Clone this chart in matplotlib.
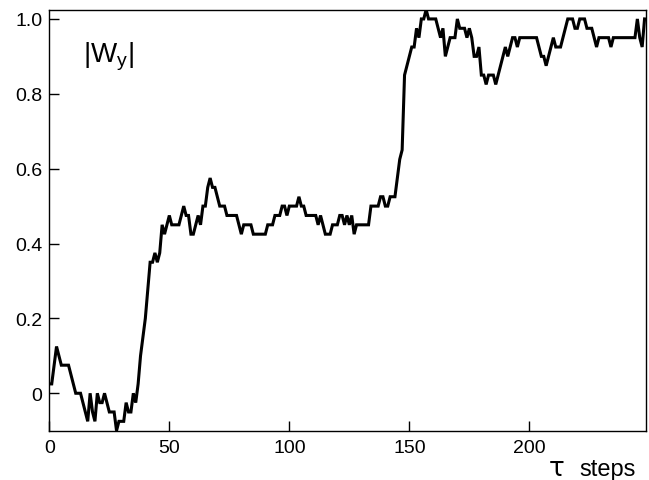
#!/usr/bin/env python3
import matplotlib
matplotlib.use("Agg")
import matplotlib.pyplot as plt
import numpy as np

plt.rcParams.update({
    "font.family": ["Liberation Sans", "DejaVu Sans"],
    "mathtext.fontset": "custom",
    "mathtext.rm": "Liberation Sans",
    "mathtext.it": "Liberation Sans:italic",
})

# |W_y| per tau step (steps of 0.025)
w_y = [
    0.025, 0.025, 0.075, 0.125, 0.1, 0.075, 0.075, 0.075, 0.075, 0.05,
    0.025, 0.0, 0.0, 0.0, -0.025, -0.05, -0.075, 0.0, -0.05, -0.075,
    0.0, -0.025, -0.025, 0.0, -0.025, -0.05, -0.05, -0.05, -0.1, -0.075,
    -0.075, -0.075, -0.025, -0.05, -0.05, 0.0, -0.025, 0.025, 0.1, 0.15,
    0.2, 0.275, 0.35, 0.35, 0.375, 0.35, 0.375, 0.45, 0.425, 0.45,
    0.475, 0.45, 0.45, 0.45, 0.45, 0.475, 0.5, 0.475, 0.475, 0.425,
    0.425, 0.45, 0.475, 0.45, 0.5, 0.5, 0.55, 0.575, 0.55, 0.55,
    0.525, 0.5, 0.5, 0.5, 0.475, 0.475, 0.475, 0.475, 0.475, 0.45,
    0.425, 0.45, 0.45, 0.45, 0.45, 0.425, 0.425, 0.425, 0.425, 0.425,
    0.425, 0.45, 0.45, 0.45, 0.475, 0.475, 0.475, 0.5, 0.5, 0.475,
    0.5, 0.5, 0.5, 0.5, 0.525, 0.5, 0.5, 0.475, 0.475, 0.475,
    0.475, 0.475, 0.45, 0.475, 0.45, 0.425, 0.425, 0.425, 0.45, 0.45,
    0.45, 0.475, 0.475, 0.45, 0.475, 0.45, 0.475, 0.425, 0.45, 0.45,
    0.45, 0.45, 0.45, 0.45, 0.5, 0.5, 0.5, 0.5, 0.525, 0.525,
    0.5, 0.5, 0.525, 0.525, 0.525, 0.575, 0.625, 0.65, 0.85, 0.875,
    0.9, 0.925, 0.925, 0.975, 0.95, 1.0, 1.0, 1.025, 1.0, 1.0,
    1.0, 1.0, 0.975, 0.95, 0.975, 0.9, 0.925, 0.95, 0.95, 0.95,
    1.0, 0.975, 0.975, 0.975, 0.95, 0.975, 0.95, 0.9, 0.9, 0.925,
    0.85, 0.85, 0.825, 0.85, 0.85, 0.85, 0.825, 0.85, 0.875, 0.9,
    0.925, 0.9, 0.925, 0.95, 0.95, 0.925, 0.95, 0.95, 0.95, 0.95,
    0.95, 0.95, 0.95, 0.95, 0.925, 0.9, 0.9, 0.875, 0.9, 0.925,
    0.95, 0.925, 0.925, 0.925, 0.95, 0.975, 1.0, 1.0, 1.0, 0.975,
    0.975, 1.0, 1.0, 1.0, 0.975, 0.975, 0.975, 0.95, 0.925, 0.95,
    0.95, 0.95, 0.95, 0.95, 0.925, 0.95, 0.95, 0.95, 0.95, 0.95,
    0.95, 0.95, 0.95, 0.95, 0.95, 1.0, 0.95, 0.925, 1.0,
]
steps = np.arange(len(w_y))

x_ticks = [0, 50, 100, 150, 200]
y_ticks = [0.0, 0.2, 0.4, 0.6, 0.8, 1.0]
y_tick_labels = ["0", "0.2", "0.4", "0.6", "0.8", "1.0"]

fig = plt.figure(figsize=(6.49, 4.81), dpi=100)
ax = fig.add_axes([0.076, 0.1025, 0.919, 0.8755])
ax.plot(steps, w_y, color="black", lw=2.2, solid_joinstyle="miter")

ax.set_xlim(0, 248.5)
ax.set_ylim(-0.1, 1.025)
ax.set_xticks(x_ticks)
ax.set_yticks(y_ticks)
ax.set_yticklabels(y_tick_labels)
ax.tick_params(direction="in", length=7, width=1, labelsize=14,
               top=False, right=False)
ax.tick_params(axis="x", pad=6)
ax.tick_params(axis="y", pad=5)
for sp in ax.spines.values():
    sp.set_linewidth(1.0)

ax.text(0.056, 0.876, r"|W$_\mathrm{y}$|", transform=ax.transAxes,
        fontsize=20, va="baseline", ha="left")
# axis label sits in the bottom-right corner, under the axis line
fig.text(549 / 649, 1 - 476 / 481, "\u03c4", fontsize=19,
         family=["DejaVu Sans"], va="baseline", ha="left")
fig.text(579 / 649, 1 - 476 / 481, "steps", fontsize=17,
         va="baseline", ha="left")

fig.savefig("out.png", dpi=100, facecolor="white")
